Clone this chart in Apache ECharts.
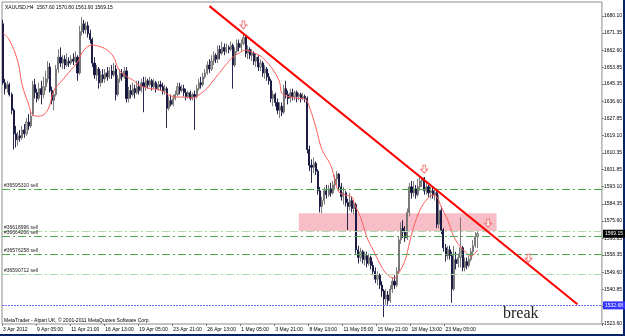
<!DOCTYPE html>
<html>
<head>
<meta charset="utf-8">
<title>XAUUSD,H4</title>
<script src="https://cdn.jsdelivr.net/npm/echarts@6/dist/echarts.min.js"></script>
<style>
  html, body { margin: 0; padding: 0; background: #fff; }
  #main { width: 625px; height: 336px; }
</style>
</head>
<body>
<div id="main"></div>
<script>
// time labels, one every 16 H4 bars
var timeLabels = ['3 Apr 2012', '9 Apr 05:00', '11 Apr 21:00', '16 Apr 13:00', '19 Apr 05:00', '23 Apr 21:00',
  '26 Apr 13:00', '1 May 05:00', '3 May 21:00', '8 May 13:00', '11 May 05:00', '15 May 21:00', '18 May 13:00', '23 May 05:00'];
var priceTicks = ['1523.60', '1532.10', '1540.85', '1549.60', '1558.35', '1566.85', '1575.60', '1584.35', '1593.10',
  '1601.85', '1610.35', '1619.10', '1627.85', '1636.60', '1645.35', '1653.85', '1662.60', '1671.35', '1680.10'];

// [open, close, low, high]
var ohlc = [
  [1676, 1646, 1645, 1678], [1646, 1643, 1640, 1648], [1643, 1645, 1641, 1647], [1645, 1640, 1639, 1646],
  [1640, 1632, 1630, 1641], [1632, 1620, 1612, 1633], [1620, 1617, 1613, 1624], [1617, 1619, 1614, 1621],
  [1619, 1618, 1616, 1622], [1618, 1622, 1617, 1624], [1622, 1620, 1618, 1625], [1620, 1626, 1619, 1628],
  [1626, 1624, 1622, 1630], [1624, 1629, 1623, 1632], [1630, 1645, 1629, 1647], [1645, 1641, 1638, 1648],
  [1641, 1638, 1636, 1643], [1638, 1643, 1637, 1646], [1643, 1640, 1635, 1647], [1640, 1644, 1638, 1649],
  [1644, 1648, 1642, 1652], [1648, 1654, 1646, 1657], [1654, 1642, 1641, 1656], [1642, 1637, 1635, 1644],
  [1637, 1640, 1632, 1642], [1640, 1653, 1639, 1655], [1653, 1659, 1651, 1663], [1659, 1656, 1654, 1664],
  [1656, 1658, 1653, 1660], [1658, 1655, 1653, 1660], [1655, 1657, 1654, 1661], [1657, 1656, 1654, 1659],
  [1656, 1658, 1655, 1660], [1658, 1657, 1655, 1661], [1657, 1659, 1656, 1662], [1659, 1651, 1647, 1660],
  [1651, 1672, 1650, 1675], [1672, 1676, 1670, 1679.4], [1676, 1673, 1671, 1678], [1673, 1675, 1671, 1677],
  [1675, 1671, 1669, 1677], [1671, 1668, 1666, 1673], [1668, 1656, 1654, 1669], [1656, 1650, 1648, 1659],
  [1650, 1653, 1647, 1655], [1653, 1646, 1643, 1654], [1646, 1650, 1644, 1652], [1650, 1648, 1646, 1653],
  [1648, 1651, 1646, 1653], [1651, 1649, 1647, 1654], [1649, 1652, 1648, 1654], [1652, 1650, 1648, 1655],
  [1650, 1652, 1649, 1656], [1653, 1640, 1637, 1655], [1640, 1648, 1639, 1650], [1648, 1651, 1646, 1653],
  [1651, 1649, 1647, 1653], [1649, 1652, 1648, 1654], [1652, 1638, 1636, 1654], [1638, 1642, 1636, 1644],
  [1642, 1640, 1638, 1645], [1640, 1643, 1639, 1646], [1643, 1641, 1638, 1645], [1641, 1644, 1640, 1647],
  [1644, 1642, 1640, 1647], [1642, 1646, 1641, 1648], [1646, 1644, 1631, 1649], [1644, 1647, 1642, 1649],
  [1647, 1645, 1643, 1648], [1645, 1647, 1644, 1649], [1647, 1644, 1642, 1648], [1644, 1646, 1643, 1648],
  [1646, 1643, 1641, 1647], [1643, 1645, 1642, 1647], [1645, 1644, 1642, 1647], [1644, 1642, 1640, 1646],
  [1642, 1643, 1640, 1645], [1643, 1633, 1623, 1644], [1633, 1637, 1632, 1639], [1637, 1635, 1634, 1640],
  [1635, 1638, 1634, 1640], [1638, 1640, 1637, 1642], [1640, 1644, 1639, 1646], [1644, 1642, 1640, 1646],
  [1642, 1643, 1641, 1645], [1643, 1641, 1639, 1645], [1641, 1639, 1637, 1643], [1639, 1641, 1638, 1642],
  [1641, 1638, 1637, 1642], [1638, 1640, 1637, 1641], [1640, 1639, 1622, 1642], [1639, 1643, 1638, 1645],
  [1643, 1646, 1642, 1648], [1646, 1645, 1643, 1649], [1645, 1649, 1644, 1651], [1649, 1651, 1648, 1653],
  [1651, 1655, 1650, 1657], [1655, 1653, 1651, 1658], [1653, 1657, 1652, 1660], [1657, 1660, 1655, 1662],
  [1660, 1658, 1656, 1661], [1658, 1663, 1656, 1665], [1663, 1661, 1658, 1665], [1661, 1664, 1660, 1667],
  [1664, 1662, 1660, 1666], [1662, 1664, 1661, 1666], [1664, 1663, 1661, 1665], [1663, 1665, 1662, 1667],
  [1665, 1655, 1643, 1666], [1655, 1662, 1654, 1664], [1662, 1666, 1661, 1668], [1666, 1664, 1662, 1668],
  [1664, 1666, 1662, 1668], [1666, 1669, 1665, 1671.3], [1669, 1661, 1659, 1670], [1661, 1663, 1658, 1665],
  [1663, 1660, 1658, 1664], [1660, 1661, 1657, 1663], [1661, 1657, 1655, 1662], [1657, 1659, 1654, 1661],
  [1659, 1654, 1652, 1660], [1654, 1656, 1652, 1658], [1656, 1651, 1649, 1657], [1651, 1653, 1648, 1655],
  [1653, 1649, 1647, 1654], [1649, 1647, 1645, 1651], [1647, 1638, 1636, 1648], [1638, 1640, 1634, 1642],
  [1640, 1636, 1634, 1641], [1636, 1632, 1630, 1638], [1632, 1634, 1628, 1636], [1634, 1631, 1629, 1636],
  [1631, 1643, 1630, 1645], [1643, 1640, 1638, 1647], [1640, 1638, 1635, 1642], [1638, 1641, 1636, 1643],
  [1641, 1639, 1637, 1643], [1639, 1641, 1637, 1642], [1641, 1639, 1636, 1642], [1639, 1640, 1637, 1641],
  [1640, 1638, 1636, 1641], [1638, 1639, 1637, 1641], [1639, 1638, 1636, 1640], [1638, 1612, 1610, 1639],
  [1612, 1604, 1601, 1614], [1604, 1603, 1595, 1607], [1603, 1605, 1600, 1608], [1605, 1601, 1599, 1606],
  [1601, 1591, 1589, 1602], [1591, 1583, 1580, 1593], [1583, 1586, 1579.6, 1588], [1586, 1591, 1584, 1593],
  [1591, 1589, 1587, 1594], [1589, 1592, 1588, 1594], [1592, 1590, 1588, 1595], [1590, 1594, 1589, 1596],
  [1594, 1597, 1592, 1599], [1597, 1599.5, 1594, 1601], [1599.5, 1593, 1591, 1600], [1593, 1588, 1586, 1595],
  [1588, 1590, 1584, 1593], [1590, 1585, 1583, 1591], [1585, 1583, 1571, 1587], [1583, 1586, 1581, 1590],
  [1586, 1582, 1580, 1588], [1582, 1584, 1579, 1586], [1584, 1561, 1559, 1585], [1561, 1557, 1554, 1563],
  [1557, 1560, 1555, 1562], [1560, 1556, 1554, 1561], [1556, 1558, 1553, 1560], [1558, 1554, 1552, 1560],
  [1554, 1557, 1553, 1559], [1557, 1553, 1551, 1558], [1553, 1550, 1548, 1555], [1550, 1546, 1544, 1552],
  [1546, 1548, 1543, 1550], [1548, 1543, 1541, 1549], [1543, 1540, 1537, 1545], [1540, 1536, 1526.7, 1541],
  [1536, 1538, 1533, 1541], [1538, 1535, 1533, 1540], [1535, 1541, 1534, 1543], [1541, 1545, 1539, 1547],
  [1545, 1543, 1541, 1548], [1543, 1550, 1542, 1552], [1550, 1566, 1549, 1568], [1566, 1572, 1564, 1575],
  [1572, 1570, 1567, 1576], [1570, 1567, 1565, 1573], [1567, 1580, 1566, 1582], [1580, 1593, 1578, 1595],
  [1593, 1590, 1587, 1596], [1590, 1592, 1588, 1596], [1592, 1589, 1587, 1594], [1589, 1593, 1588, 1597],
  [1593, 1596, 1591, 1598], [1596, 1597.5, 1593, 1598.2], [1597.5, 1591, 1589, 1598], [1591, 1593, 1589, 1595],
  [1593, 1590, 1588, 1594], [1590, 1591, 1587, 1593], [1591, 1589, 1587, 1593], [1589, 1590, 1586, 1592],
  [1590, 1574, 1572, 1592], [1574, 1581, 1572, 1589], [1581, 1571, 1569, 1583], [1571, 1562, 1560, 1572],
  [1562, 1558, 1555, 1564], [1558, 1561, 1556, 1563], [1561, 1558, 1556, 1563], [1558, 1541, 1534, 1560],
  [1541, 1556, 1540, 1563], [1556, 1554, 1551, 1560], [1554, 1557, 1552, 1559], [1557, 1562, 1552, 1577.5],
  [1562, 1552, 1550, 1563], [1552, 1555, 1550, 1557], [1555, 1553, 1551, 1557], [1553, 1556, 1552, 1558],
  [1556, 1560, 1555, 1562], [1560, 1563, 1558, 1566], [1563, 1567.6, 1562, 1570], [1567.6, 1569.15, 1561.9, 1570.8]
];

// moving average (bar index, price)
var maBars = [0, 3, 7, 9, 12, 14, 17, 21, 24, 28, 31, 35, 38, 42, 46, 49, 52, 54, 57, 61, 64, 68, 71, 75, 78, 82, 85,
  89, 92, 96, 99, 102, 105, 108, 111, 114, 117, 121, 124, 127, 130, 131, 135, 138, 142, 144, 147, 150, 154, 156, 158,
  161, 164, 165, 168, 171, 174, 177, 180, 184, 186, 189, 191, 193, 196, 199, 202, 204, 206, 209, 212, 215, 218, 220, 221, 223];
var maValues = [1671.3, 1667.7, 1656.5, 1644.8, 1635.1, 1629.5, 1629.0, 1632.1, 1642.3, 1647.4, 1651.4, 1656.5, 1662.6,
  1665.2, 1664.2, 1662.6, 1659.1, 1653.5, 1649.9, 1647.4, 1644.8, 1643.3, 1642.8, 1641.8, 1639.7, 1638.7, 1638.7,
  1638.2, 1639.7, 1643.3, 1647.4, 1651.4, 1655.5, 1659.1, 1661.1, 1662.6, 1661.6, 1659.6, 1656.5, 1652.5, 1646.3,
  1640.7, 1638.7, 1638.2, 1637.7, 1633.6, 1623.4, 1611.7, 1604.1, 1596.4, 1590.3, 1588.8, 1587.8, 1584.7, 1577.6,
  1567.4, 1560.8, 1554.2, 1549.1, 1546.5, 1549.1, 1555.7, 1564.4, 1572.5, 1581.2, 1586.3, 1588.8, 1587.8, 1582.7,
  1576.1, 1567.4, 1562.4, 1559.2, 1557.7, 1558.2, 1560.8];

var orderNames = ['#36595310 sell', '#36618996 sell', '#36664206 sell', '#36576258 sell', '#36590712 sell'];
var orderPrices = [1591.6, 1570.5, 1567.7, 1558.6, 1548.5];
var hLinePrice = 1532.68;

var zoneBars = [139, 232];
var zonePrices = [1579.6, 1570.5];
var trendBars = [97, 270];
var trendPrices = [1685.0, 1533.3];
var arrowBars = [113, 198, 228, 247];
var arrowPrices = [1675.4, 1602.0, 1574.5, 1556.7];

var slotCount = 282;

var cats = [];
for (var i = 0; i < slotCount; i++) cats.push(String(i));
var maData = [];
for (i = 0; i < ohlc.length; i++) maData.push(null);
maBars.forEach(function (b, k) { maData[b] = maValues[k]; });
var tickValues = priceTicks.map(Number);
var last = ohlc[ohlc.length - 1];
var orderColors = ['#4cae4c', '#a9dba9', '#4cae4c', '#4cae4c', '#a9dba9'];
var FONT = 'Liberation Sans';

function showEvery16(idx) {
  return idx % 16 === 0 && idx / 16 < timeLabels.length;
}

var chart = echarts.init(document.getElementById('main'));
var option = {
  animation: false,
  backgroundColor: '#fff',
  grid: { left: 2, right: 22, top: 2, bottom: 12, show: true, borderColor: '#8c8c8c', borderWidth: 1, backgroundColor: '#fff' },
  xAxis: {
    type: 'category',
    data: cats,
    boundaryGap: true,
    axisLine: { show: false },
    axisTick: { show: true, interval: showEvery16, length: 2, lineStyle: { color: '#777' } },
    axisLabel: {
      interval: showEvery16,
      formatter: function (v, idx) { return timeLabels[idx / 16]; },
      align: 'left', margin: 3, fontSize: 5, fontFamily: FONT, color: '#000'
    },
    splitLine: { show: false }
  },
  yAxis: {
    type: 'value',
    position: 'right',
    min: 1523.2,
    max: 1687.1,
    axisLine: { show: false },
    axisTick: { show: true, customValues: tickValues, length: 2, lineStyle: { color: '#777' } },
    axisLabel: {
      customValues: tickValues,
      formatter: function (v) { return v.toFixed(2); },
      margin: 2, fontSize: 5, fontFamily: FONT, color: '#000'
    },
    splitLine: { show: false }
  },
  series: [
    {
      // rectangle zone
      type: 'line', data: [], z: 1, silent: true,
      markArea: {
        silent: true,
        itemStyle: { color: '#f7bec7' },
        data: [[{ coord: [String(zoneBars[0]), zonePrices[0]] }, { coord: [String(zoneBars[1]), zonePrices[1]] }]]
      }
    },
    {
      type: 'candlestick',
      data: ohlc,
      z: 3,
      barWidth: 1.6,
      itemStyle: {
        color: '#b4b4b4', color0: '#10103c',
        borderColor: '#6e6e6e', borderColor0: '#10103c', borderWidth: 0.9
      }
    },
    {
      type: 'line', data: maData, z: 4, smooth: 0.4, connectNulls: true,
      symbol: 'none', silent: true,
      lineStyle: { color: '#ff5c5c', width: 1 }
    },
    {
      // order lines, blue horizontal line, price boxes
      type: 'line', data: [], z: 5, silent: true,
      markLine: {
        silent: true, symbol: 'none', animation: false,
        data: orderPrices.map(function (p, k) {
          return {
            yAxis: p,
            lineStyle: { color: orderColors[k], type: [8, 3, 2, 3], width: 1 },
            label: {
              show: true, position: 'insideStartTop', distance: [2, 1],
              formatter: orderNames[k], fontSize: 5, fontFamily: FONT, color: '#222'
            }
          };
        }).concat([
          {
            yAxis: hLinePrice,
            lineStyle: { color: '#6a6aff', type: [2, 1], width: 1 },
            label: {
              show: true, position: 'end', distance: 1, formatter: hLinePrice.toFixed(2),
              backgroundColor: '#3535ff', color: '#fff', padding: [2, 2, 1, 2], fontSize: 5, fontFamily: FONT
            }
          },
          {
            yAxis: last[1],
            lineStyle: { color: 'rgba(0,0,0,0)', width: 1 },
            label: {
              show: true, position: 'end', distance: 1, formatter: last[1].toFixed(2),
              backgroundColor: '#000', color: '#fff', padding: [2, 2, 1, 2], fontSize: 5, fontFamily: FONT
            }
          }
        ])
      }
    },
    {
      type: 'line', z: 6, silent: true, symbol: 'none',
      data: [[String(trendBars[0]), trendPrices[0]], [String(trendBars[1]), trendPrices[1]]],
      lineStyle: { color: '#ff0000', width: 2 }
    },
    {
      type: 'scatter', z: 7, silent: true,
      symbol: 'path://M3,0 L7,0 L7,5 L10,5 L5,10 L0,5 L3,5 Z',
      symbolSize: [7, 8],
      itemStyle: { color: '#fff', borderColor: '#f05a5a', borderWidth: 1 },
      data: arrowBars.map(function (b, k) { return [String(b), arrowPrices[k]]; })
    }
  ],
  graphic: [
    { type: 'text', left: 5, top: 5, style: { text: 'XAUUSD,H4  1567.60 1570.80 1561.90 1569.15', fontSize: 5, fontFamily: FONT, fill: '#000' } },
    { type: 'text', left: 4, top: 318, style: { text: 'MetaTrader - Alpari UK, \u00a9 2001-2011 MetaQuotes Software Corp.', fontSize: 5, fontFamily: FONT, fill: '#000' } },
    { type: 'text', left: 503, top: 306, style: { text: 'break', fontSize: 16, fontFamily: 'Liberation Serif', fill: '#222' } },
    { type: 'rect', shape: { x: 623, y: 0, width: 2, height: 336 }, style: { fill: '#0a246a' } },
    { type: 'rect', shape: { x: 0, y: 334, width: 625, height: 2 }, style: { fill: '#0a246a' } }
  ]
};
chart.setOption(option);
</script>
</body>
</html>
